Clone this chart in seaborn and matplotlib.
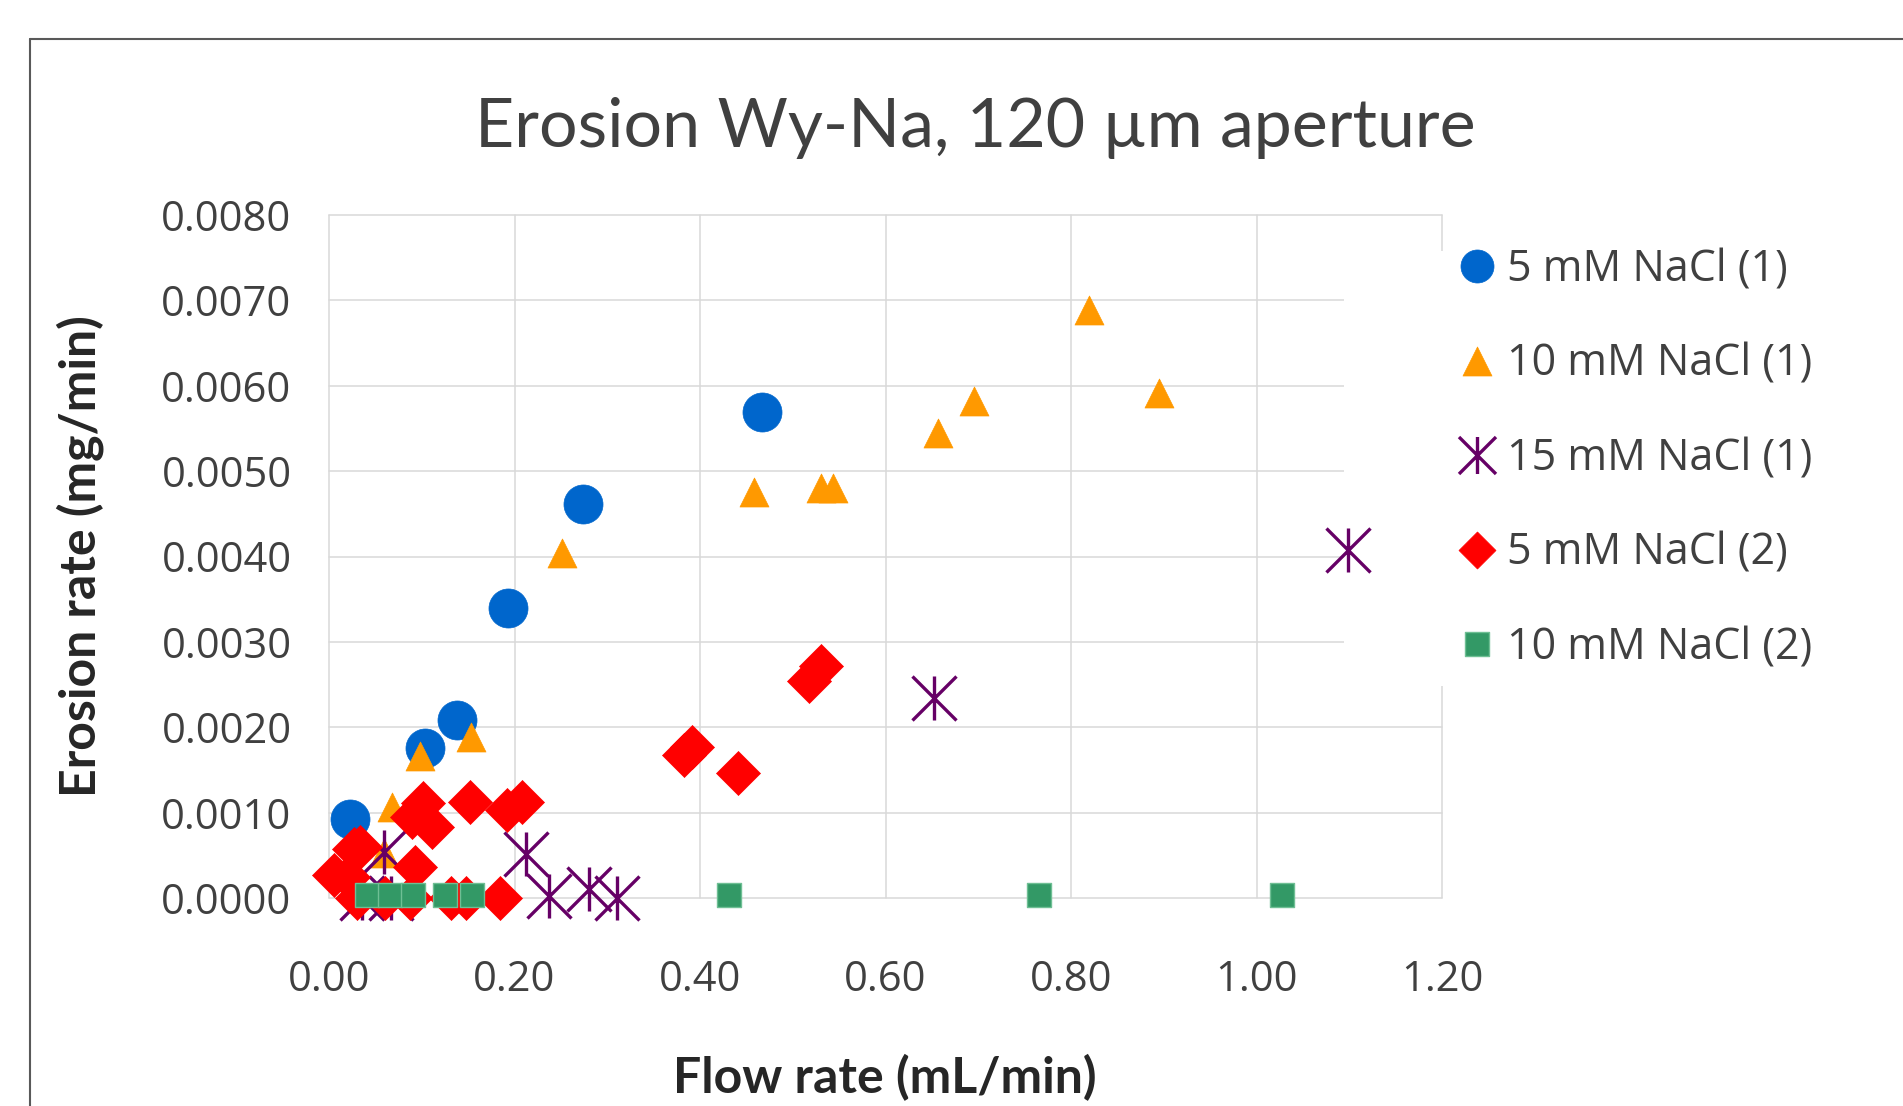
import numpy as np
import pandas as pd
import matplotlib
matplotlib.use("Agg")
import matplotlib.pyplot as plt
from matplotlib.path import Path
from matplotlib.lines import Line2D
from matplotlib.patches import Rectangle
from matplotlib.ticker import FormatStrFormatter
import seaborn as sns

# ---------------- data ----------------
series_names = ["5 mM NaCl (1)", "10 mM NaCl (1)", "15 mM NaCl (1)",
                "5 mM NaCl (2)", "10 mM NaCl (2)"]

flow_5mM_1 = [0.023, 0.104, 0.138, 0.193, 0.274, 0.467]
erosion_5mM_1 = [0.00092, 0.00176, 0.00209, 0.00340, 0.00462, 0.00569]

flow_10mM_1 = [0.059, 0.068, 0.098, 0.153, 0.251, 0.458, 0.530, 0.543,
               0.657, 0.695, 0.819, 0.895]
erosion_10mM_1 = [0.00053, 0.00107, 0.00166, 0.00189, 0.00404, 0.00475,
                  0.00480, 0.00480, 0.00545, 0.00582, 0.00689, 0.00592]

flow_15mM_1 = [0.036, 0.067, 0.059, 0.212, 0.237, 0.280, 0.310, 0.652, 1.099]
erosion_15mM_1 = [0.0, 0.0, 0.00054, 0.00052, 0.00002, 0.00010, 0.0,
                  0.00234, 0.00408]

flow_5mM_2 = [0.005, 0.021, 0.027, 0.033, 0.093, 0.090, 0.101, 0.111,
              0.152, 0.192, 0.208, 0.383, 0.391, 0.441, 0.518, 0.530,
              0.030, 0.060, 0.087, 0.132, 0.148, 0.184]
erosion_5mM_2 = [0.00027, 0.00025, 0.00057, 0.00060, 0.00036, 0.00095,
                 0.00111, 0.00083, 0.00113, 0.00103, 0.00112, 0.00168,
                 0.00177, 0.00146, 0.00254, 0.00272,
                 0.0, 0.0, 0.0, 0.0, 0.0, 0.0]

flow_10mM_2 = [0.041, 0.066, 0.091, 0.125, 0.154, 0.431, 0.766, 1.028]
erosion_10mM_2 = [0.00003, 0.00003, 0.00003, 0.00003, 0.00003,
                  0.00003, 0.00003, 0.00003]

x_ticks = [0.0, 0.2, 0.4, 0.6, 0.8, 1.0, 1.2]
y_ticks = [0.0, 0.001, 0.002, 0.003, 0.004, 0.005, 0.006, 0.007, 0.008]

# ---------------- style ----------------
sns.set_style("white")
plt.rcParams['font.family'] = ['Open Sans', 'DejaVu Sans']

W, H = 1903, 1106
fig = plt.figure(figsize=(W / 100, H / 100), dpi=100)
ax = fig.add_axes([329 / W, 1 - 898 / H, (1442 - 329) / W, (898 - 215) / H])

star = Path([(0, -1), (0, 1), (-1, -1), (1, 1), (-1, 1), (1, -1)],
            [Path.MOVETO, Path.LINETO] * 3)

specs = [
    (series_names[0], flow_5mM_1, erosion_5mM_1, 'o', '#0066CC', 790, '#0066CC', 0.5),
    (series_names[1], flow_10mM_1, erosion_10mM_1, '^', '#FF9900', 436, '#FF9900', 0.5),
    (series_names[2], flow_15mM_1, erosion_15mM_1, star, '#660066', 1004, '#660066', 2.4),
    (series_names[3], flow_5mM_2, erosion_5mM_2, 'D', '#FF0000', 502, '#FF0000', 0.5),
    (series_names[4], flow_10mM_2, erosion_10mM_2, 's', '#339966', 299, '#6fbf94', 1.0),
]
legend_sizes = [565, 436, 710, 355, 299]

for name, xs, ys, mk, col, sz, ec, lw in specs:
    df = pd.DataFrame({"flow": xs, "erosion": ys})
    sns.scatterplot(data=df, x="flow", y="erosion", ax=ax, marker=mk, s=sz,
                    color=col, edgecolor=ec, linewidth=lw, label=name,
                    clip_on=False, zorder=3)

ax.set_xlim(0, 1.2)
ax.set_ylim(0, 0.008)
ax.set_xticks(x_ticks)
ax.set_yticks(y_ticks)
ax.xaxis.set_major_formatter(FormatStrFormatter('%.2f'))
ax.yaxis.set_major_formatter(FormatStrFormatter('%.4f'))
ax.grid(True, color='#d9d9d9', linewidth=1.1)
ax.set_axisbelow(True)
for l in ax.get_xgridlines() + ax.get_ygridlines():
    l.set_clip_on(False)
for sp in ax.spines.values():
    sp.set_visible(False)
ax.tick_params(length=0, labelsize=30, labelcolor='#404040')
ax.tick_params(axis='x', pad=44)
ax.tick_params(axis='y', pad=27)
ax.set_xlabel('')
ax.set_ylabel('')

# white area behind legend covering gridlines
ax.add_patch(Rectangle((1.094, 0.00248), 0.6, 0.0051, transform=ax.transData,
                       facecolor='white', edgecolor='none', zorder=1, clip_on=False))

leg = ax.legend(loc="upper left", bbox_to_anchor=(1455 / W, 1 - 248 / H),
                bbox_transform=fig.transFigure, frameon=False, fontsize=31,
                handlelength=1.0, handletextpad=0.2, labelspacing=1.16,
                borderpad=0, borderaxespad=0, scatterpoints=1,
                scatteryoffsets=[0.5])
for t in leg.get_texts():
    t.set_color('#404040')
for h, s in zip(leg.legend_handles, legend_sizes):
    h.set_sizes([s])

# titles
fig.text(975 / W, 1 - 147 / H, "Erosion Wy-Na, 120 µm aperture", ha='center',
         va='baseline', fontsize=49, family=['Lato', 'DejaVu Sans'], color='#404040')
fig.text(80 / W, 1 - 556 / H, "Erosion rate (mg/min)", rotation=90, ha='center',
         va='center', fontsize=36, fontweight='bold',
         family=['Lato', 'DejaVu Sans'], color='#262626')
fig.text(885 / W, 1 - 1093 / H, "Flow rate (mL/min)", ha='center', va='baseline',
         fontsize=36, fontweight='bold', family=['Lato', 'DejaVu Sans'],
         color='#262626')

# outer chart frame (cropped)
fig.add_artist(Line2D([30 / W, 30 / W], [0, 1 - 39 / H], transform=fig.transFigure,
                      color='#595959', lw=1.5))
fig.add_artist(Line2D([30 / W, 1], [1 - 39 / H, 1 - 39 / H], transform=fig.transFigure,
                      color='#595959', lw=1.5))

fig.savefig("out.png", dpi=100)
